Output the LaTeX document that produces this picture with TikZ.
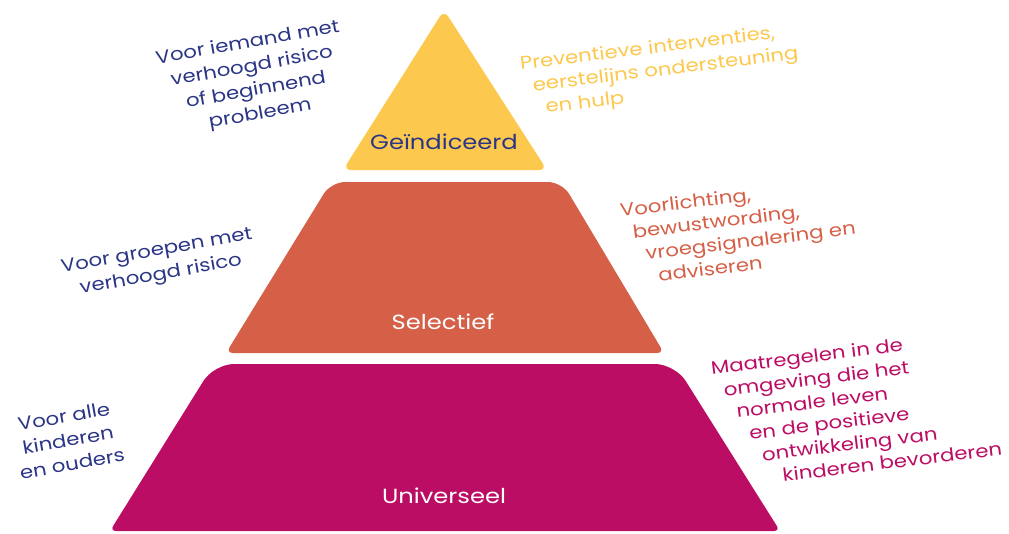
\documentclass[tikz,border=0pt]{standalone}
\usepackage{fontspec}
\setmainfont{Poppins}[FakeStretch=1.18]

\definecolor{tieryellow}{HTML}{FCC84E}
\definecolor{tierorange}{HTML}{D56047}
\definecolor{tiermagenta}{HTML}{BC0D64}
\definecolor{notenavy}{HTML}{2B3585}

\tikzset{
  tierlabel/.style={font=\fontsize{20.5}{24}\selectfont},
  leftnote/.style={font=\fontsize{18}{24}\selectfont, text=notenavy, align=center, rotate=10, inner sep=0pt},
  rightnote/.style={font=\fontsize{18}{23}\selectfont, align=left, rotate=7, anchor=north west, inner sep=0pt},
}

\begin{document}
\begin{tikzpicture}[x=1pt, y=-1pt]
\useasboundingbox (0,0) rectangle (1009,533);

% the three tiers
\fill [tieryellow, rounded corners=8pt] (444,10) -- (547,170) -- (343,170) -- cycle;
\fill [tierorange] (446,182) [rounded corners=14pt] -- (562,182) [rounded corners=7pt] -- (664,353) -- (226,353) [rounded corners=14pt] -- (331,182) -- cycle;
\fill [tiermagenta] (445,364) [rounded corners=20pt] -- (675,364) [rounded corners=6pt] -- (780,531) -- (110,531) [rounded corners=20pt] -- (214,364) -- cycle;

\node [tierlabel, text=notenavy] (geindiceerd) at (444,142) {Geïndiceerd};
\node [tierlabel, text=white] (selectief) at (443,322) {Selectief};
\node [tierlabel, text=white] (universeel) at (444,496) {Universeel};

% left notes
\node [leftnote] (iemand) at (254,79) {Voor iemand met\\verhoogd risico\\of beginnend\\probleem};
\node [leftnote] (groepen) at (159,264) {Voor groepen met\\verhoogd risico};
\node [leftnote] (allen) at (68,440) {Voor alle\\kinderen\\en ouders};

% right notes
\node [rightnote, text=tieryellow] (preventief) at (519,56) {Preventieve interventies,\\\hspace*{10pt}eerstelijns ondersteuning\\\hspace*{20pt}en hulp};
\node [rightnote, text=tierorange] (voorlichting) at (619,203) {Voorlichting,\\\hspace*{10pt}bewustwording,\\\hspace*{20pt}vroegsignalering en\\\hspace*{30pt}adviseren};
\node [rightnote, text=tiermagenta] (maatregelen) at (710,361) {Maatregelen in de\\\hspace*{10pt}omgeving die het\\\hspace*{20pt}normale leven\\\hspace*{30pt}en de positieve\\\hspace*{40pt}ontwikkeling van\\\hspace*{58pt}kinderen bevorderen};

\end{tikzpicture}
\end{document}
